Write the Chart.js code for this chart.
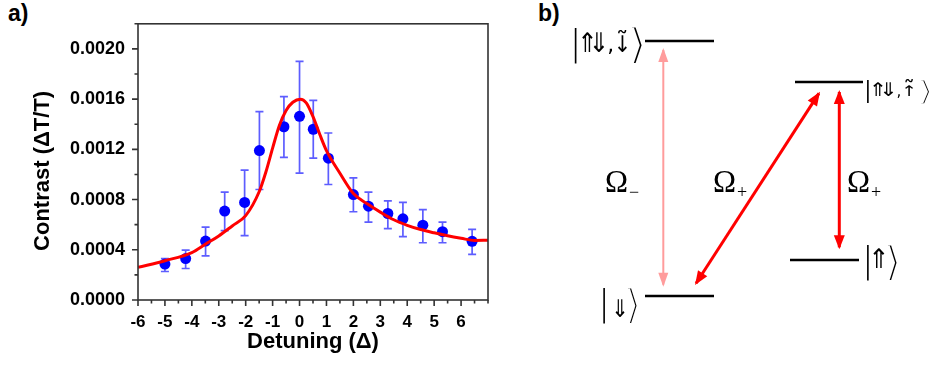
<!DOCTYPE html>
<html>
<head>
<meta charset="utf-8">
<title>Detuning contrast and level scheme</title>
<script src="https://cdn.jsdelivr.net/npm/chart.js@4.4.1/dist/chart.umd.min.js"></script>
<style>
  html, body { margin:0; padding:0; background:#fff; }
  body { width:934px; height:365px; position:relative; overflow:hidden; }
  .box { position:absolute; top:0; height:365px; }
  #boxA { left:0; width:500px; }
  #boxB { left:560px; width:374px; }
  .tag { position:absolute; top:-1px; font:bold 23px "Liberation Sans", Arial, sans-serif; line-height:28px; color:#000; }
</style>
</head>
<body>
<div class="tag" style="left:8px">a)</div>
<div class="tag" style="left:538px">b)</div>
<div class="box" id="boxA"><canvas id="chartA"></canvas></div>
<div class="box" id="boxB"><canvas id="chartB"></canvas></div>
<script>
// ---- panel a: measured contrast vs detuning ----
const detuning = [-5.0, -4.23, -3.49, -2.78, -2.04, -1.49, -0.58, 0.0, 0.51, 1.07, 2.0, 2.56, 3.28, 3.84, 4.58, 5.31, 6.41];
const contrast = [0.000286, 0.00033, 0.000469, 0.000708, 0.000777, 0.00119, 0.00138, 0.001463, 0.00136, 0.00113, 0.00084, 0.000747, 0.000689, 0.000647, 0.000596, 0.000544, 0.000467];
const errHigh  = [0.00033, 0.000398, 0.000581, 0.00086, 0.001035, 0.0015, 0.00162, 0.0019, 0.00159, 0.00133, 0.000972, 0.00086, 0.00079, 0.000777, 0.00072, 0.00062, 0.000562];
const errLow   = [0.000227, 0.000251, 0.000352, 0.000552, 0.000513, 0.00088, 0.001136, 0.00101, 0.00113, 0.00092, 0.000703, 0.00062, 0.000569, 0.000505, 0.000456, 0.000456, 0.000364];

// fitted line shape
const fitX = [-6, -5, -4, -3.5, -3, -2.5, -2, -1.5, -1.25, -1, -0.75, -0.5, -0.25, 0.03, 0.25, 0.5, 0.75, 1, 1.5, 2, 2.5, 3, 3.5, 4, 4.5, 5, 5.5, 6, 6.5, 7];
const fitY = [0.00026, 0.000313, 0.000378, 0.000444, 0.00051, 0.00059, 0.000672, 0.000862, 0.00102, 0.00121, 0.00139, 0.00151, 0.001575, 0.0016, 0.00157, 0.00146, 0.00132, 0.00119, 0.00101, 0.000848, 0.000768, 0.0007, 0.000639, 0.000595, 0.000561, 0.000535, 0.000512, 0.000492, 0.000474, 0.000476];

// axis ranges and tick steps
const xRange = [-6, 7];
const yRange = [0, 0.0022];
const xStep = 0.5;
const yStep = 0.0002;

// ---- panel b: level scheme ----
const levelStates = [['⇑', '⇓', ',', '↓̃'], ['⇑', '⇓', ',', '↑̃'], ['⇑'], ['⇓']];
const levelEnergy = [32.4, 28.3, 10.5, 6.9];
const levelFrom   = [8.5, 23.5, 23.0, 8.5];
const levelTo     = [15.4, 30.3, 29.9, 15.4];

const transSub   = ['−', '+', '+'];
const transStart = [[10.33, 8.03], [13.61, 8.17], [27.93, 11.77]];
const transEnd   = [[10.33, 31.5], [25.89, 27.16], [27.93, 27.3]];

const SANS = '"Liberation Sans", Arial, Helvetica, sans-serif';
const SERIF = '"Liberation Serif", "Times New Roman", serif';
const SYM = '"DejaVu Sans", sans-serif';
const TILDE = '\u0303';

// error bars under the markers
const errorBars = {
  id: 'errorBars',
  beforeDatasetsDraw(chart) {
    const { ctx, scales: { x, y } } = chart;
    ctx.save();
    ctx.strokeStyle = 'rgba(30,30,255,0.72)';
    ctx.lineWidth = 1.7;
    detuning.forEach((d, i) => {
      const px = x.getPixelForValue(d);
      const top = y.getPixelForValue(errHigh[i]);
      const bot = y.getPixelForValue(errLow[i]);
      ctx.beginPath();
      ctx.moveTo(px, top); ctx.lineTo(px, bot);
      ctx.moveTo(px - 4, top); ctx.lineTo(px + 4, top);
      ctx.moveTo(px - 4, bot); ctx.lineTo(px + 4, bot);
      ctx.stroke();
    });
    ctx.restore();
  }
};

// closed frame with outward major/minor tick marks
const frameTicks = {
  id: 'frameTicks',
  afterDraw(chart) {
    const { ctx, chartArea: a, scales: { x, y } } = chart;
    ctx.save();
    ctx.strokeStyle = '#333';
    ctx.lineWidth = 1.6;
    ctx.strokeRect(a.left, a.top, a.right - a.left, a.bottom - a.top);
    ctx.beginPath();
    x.ticks.forEach(t => {
      const p = x.getPixelForValue(t.value);
      const len = t.label !== '' ? 6 : 3.5;
      ctx.moveTo(p, a.bottom); ctx.lineTo(p, a.bottom + len);
    });
    y.ticks.forEach(t => {
      const p = y.getPixelForValue(t.value);
      const len = t.label !== '' ? 6 : 3.5;
      ctx.moveTo(a.left, p); ctx.lineTo(a.left - len, p);
    });
    ctx.stroke();
    ctx.restore();
  }
};

const axisTitles = {
  id: 'axisTitles',
  afterDraw(chart) {
    const { ctx, chartArea: a } = chart;
    ctx.save();
    ctx.fillStyle = '#000';
    ctx.font = 'bold 22px ' + SANS;
    ctx.textAlign = 'center';
    ctx.textBaseline = 'middle';
    ctx.fillText('Detuning (Δ)', (a.left + a.right) / 2, a.bottom + 42);
    ctx.translate(a.left - 95, (a.top + a.bottom) / 2 + 9);
    ctx.rotate(-Math.PI / 2);
    ctx.fillText('Contrast (ΔT/T)', 0, 0);
    ctx.restore();
  }
};

const tickFont = (size) => ({ family: SANS, size: size, weight: 'bold' });

new Chart(document.getElementById('chartA'), {
  type: 'scatter',
  data: {
    datasets: [
      {
        label: 'measured',
        data: detuning.map((d, i) => ({ x: d, y: contrast[i] })),
        backgroundColor: '#0000ff',
        borderWidth: 0,
        pointRadius: 5.5,
        pointHoverRadius: 5.5,
        order: 2
      },
      {
        label: 'fit',
        type: 'line',
        data: fitX.map((d, i) => ({ x: d, y: fitY[i] })),
        borderColor: '#ff0000',
        borderWidth: 3,
        pointRadius: 0,
        fill: false,
        cubicInterpolationMode: 'monotone',
        order: 1
      }
    ]
  },
  options: {
    responsive: true,
    maintainAspectRatio: false,
    animation: false,
    events: [],
    layout: { padding: { left: 0, right: 12, top: 0, bottom: 0 } },
    plugins: { legend: { display: false }, tooltip: { enabled: false } },
    scales: {
      x: {
        type: 'linear',
        min: xRange[0], max: xRange[1],
        grid: { display: false, drawTicks: false },
        border: { display: false },
        ticks: {
          stepSize: xStep, autoSkip: false, maxRotation: 0, minRotation: 0,
          padding: 12, color: '#000', font: tickFont(17),
          callback: (v) => (Number.isInteger(v) && v <= 6) ? String(v) : ''
        },
        afterFit: (s) => { s.height = 65; }
      },
      y: {
        min: yRange[0], max: yRange[1],
        grid: { display: false, drawTicks: false },
        border: { display: false },
        ticks: {
          stepSize: yStep, autoSkip: false,
          padding: 13, color: '#000', font: tickFont(18),
          callback: (v) => {
            const k = Math.round(v / yStep);
            return (k % 2 === 0 && k <= 10) ? (k * yStep).toFixed(4) : '';
          }
        },
        afterFit: (s) => { s.width = 138; }
      }
    }
  },
  plugins: [errorBars, frameTicks, axisTitles]
});

// ---- panel b drawing helpers ----

// glyph stretched into a box; optionally trimmed to a thin right-hand edge
function drawBoxed(ctx, str, left, top, w, h, trim) {
  ctx.save();
  ctx.font = '100px ' + SYM;
  const m = ctx.measureText(str);
  const gw = m.actualBoundingBoxLeft + m.actualBoundingBoxRight;
  const gh = m.actualBoundingBoxAscent + m.actualBoundingBoxDescent;
  ctx.textAlign = 'left';
  ctx.textBaseline = 'alphabetic';
  const put = (dx, colour) => {
    ctx.save();
    ctx.fillStyle = colour;
    ctx.translate(left + dx, top);
    ctx.scale(w / gw, h / gh);
    ctx.fillText(str, m.actualBoundingBoxLeft, m.actualBoundingBoxAscent);
    ctx.restore();
  };
  put(0, '#000');
  if (trim > 0) put(-trim, '#fff');
  ctx.restore();
}

// ket |state> layout per level: side of the line, offsets and glyph sizes
const ketStyle = [
  { side: 'left',  gap: 3, dy: 4.3, h: 36, arrowH: 20, arrowDy: -3,   aw: 11.5, commaW: 12, padL: 5,  padR: 4, bracketW: 10 },
  { side: 'right', gap: 4, dy: 10,  h: 23, arrowH: 14, arrowDy: -3.5, aw: 10.5, commaW: 10, padL: 4,  padR: 7, bracketW: 8 },
  { side: 'right', gap: 8, dy: 2.5, h: 35, arrowH: 20, arrowDy: -4.5, aw: 12,   commaW: 0,  padL: 4,  padR: 3, bracketW: 9 },
  { side: 'left',  gap: 8, dy: 10,  h: 35, arrowH: 18, arrowDy: 2,    aw: 10,   commaW: 0,  padL: 10, padR: 3, bracketW: 9 }
];

function ketWidth(parts, st) {
  const inner = parts.reduce((s, p) => s + (p === ',' ? st.commaW : st.aw), 0);
  return 1.8 + st.padL + inner + st.padR + st.bracketW;
}

function drawKet(ctx, parts, left, yc, st) {
  const top = yc - st.h / 2;
  drawBoxed(ctx, '|', left, top, 1.8, st.h, 0);
  ctx.save();
  ctx.fillStyle = '#000';
  ctx.font = '100px ' + SYM;
  ctx.textAlign = 'left';
  ctx.textBaseline = 'alphabetic';
  const ref = ctx.measureText('⇑');
  const refW = ref.actualBoundingBoxLeft + ref.actualBoundingBoxRight;
  const refH = ref.actualBoundingBoxAscent + ref.actualBoundingBoxDescent;
  const sx = st.aw * 0.92 / refW, sy = st.arrowH / refH;
  const arrowTop = yc + st.arrowDy - st.arrowH / 2;
  const arrowBot = arrowTop + st.arrowH;
  const baseline = arrowTop + ref.actualBoundingBoxAscent * sy;
  let x = left + 1.8 + st.padL;
  parts.forEach(p => {
    const bw = p === ',' ? st.commaW : st.aw;
    if (p.endsWith(TILDE)) {
      // spin arrow carrying a tilde: shorter arrow with the accent set above it
      const base = p.slice(0, -TILDE.length);
      const accTop = arrowTop - 2;
      drawBoxed(ctx, base, x + bw * 0.1, accTop + 5, bw * 0.8, arrowBot - accTop - 5, 0);
      drawBoxed(ctx, '˜', x + bw * 0.12, accTop, bw * 0.76, 3, 0);
    } else {
      const m = ctx.measureText(p);
      ctx.save();
      ctx.translate(x + bw / 2, baseline);
      if (p === ',') ctx.scale(sy * 0.8, sy * 0.8); else ctx.scale(sx, sy);
      ctx.fillText(p, (m.actualBoundingBoxLeft - m.actualBoundingBoxRight) / 2, 0);
      ctx.restore();
    }
    x += bw;
  });
  ctx.restore();
  drawBoxed(ctx, '⟩', x + st.padR, top, st.bracketW, st.h, Math.max(0, st.bracketW * 0.3 - 1.3));
}

function drawHead(ctx, tipX, tipY, fromX, fromY, color, len, half) {
  const ang = Math.atan2(tipY - fromY, tipX - fromX);
  ctx.save();
  ctx.translate(tipX, tipY);
  ctx.rotate(ang);
  ctx.fillStyle = color;
  ctx.beginPath();
  ctx.moveTo(2, 0);
  ctx.lineTo(2 - len, -half);
  ctx.lineTo(2 - len, half);
  ctx.closePath();
  ctx.fill();
  ctx.restore();
}

const arrowHeads = {
  id: 'arrowHeads',
  afterDatasetsDraw(chart) {
    const { ctx } = chart;
    chart.data.datasets.forEach((ds, i) => {
      if (!ds.head) return;
      const [p, q] = chart.getDatasetMeta(i).data;
      drawHead(ctx, q.x, q.y, p.x, p.y, ds.borderColor, ds.head.len, ds.head.half);
      drawHead(ctx, p.x, p.y, q.x, q.y, ds.borderColor, ds.head.len, ds.head.half);
    });
  }
};

// Rabi frequency symbols next to the transitions
const omegaSpots = [[4.5, 17.3], [15.3, 17.3], [28.7, 17.3]];

const schemeLabels = {
  id: 'schemeLabels',
  afterDraw(chart) {
    const { ctx, scales: { x, y } } = chart;
    ctx.save();
    ctx.fillStyle = '#000';
    levelStates.forEach((parts, i) => {
      const st = ketStyle[i];
      const total = ketWidth(parts, st);
      const yc = y.getPixelForValue(levelEnergy[i]) + st.dy;
      const left = st.side === 'left'
        ? x.getPixelForValue(levelFrom[i]) - st.gap - total
        : x.getPixelForValue(levelTo[i]) + st.gap;
      drawKet(ctx, parts, left, yc, st);
    });
    transSub.forEach((sub, i) => {
      const px = x.getPixelForValue(omegaSpots[i][0]);
      const py = y.getPixelForValue(omegaSpots[i][1]);
      ctx.fillStyle = '#000';
      ctx.font = '31px ' + SERIF;
      ctx.textAlign = 'left';
      ctx.textBaseline = 'alphabetic';
      ctx.fillText('Ω', px, py);
      const w = ctx.measureText('Ω').width;
      ctx.font = '18px ' + SERIF;
      ctx.fillText(sub, px + w + 1, py + 6);
    });
    ctx.restore();
  }
};

const levelSets = levelStates.map((parts, i) => ({
  label: '|' + parts.join('') + '⟩',
  data: [{ x: levelFrom[i], y: levelEnergy[i] }, { x: levelTo[i], y: levelEnergy[i] }],
  showLine: true, borderColor: '#000', borderWidth: 2.5, borderCapStyle: 'butt', pointRadius: 0
}));

const transColors = ['#ff9c9c', '#ff0000', '#ff0000'];
const transWidths = [2, 3, 3];
const transSets = transSub.map((sub, i) => ({
  label: 'Ω' + sub,
  data: [{ x: transStart[i][0], y: transStart[i][1] }, { x: transEnd[i][0], y: transEnd[i][1] }],
  showLine: true, borderColor: transColors[i], borderWidth: transWidths[i], borderCapStyle: 'butt', pointRadius: 0,
  head: { len: 14, half: i === 0 ? 5 : 5.5 }
}));

new Chart(document.getElementById('chartB'), {
  type: 'scatter',
  data: { datasets: [...levelSets, ...transSets] },
  options: {
    responsive: true,
    maintainAspectRatio: false,
    animation: false,
    events: [],
    layout: { padding: 0 },
    plugins: { legend: { display: false }, tooltip: { enabled: false } },
    scales: {
      x: { display: false, min: 0, max: 37.4 },
      y: { display: false, min: 0, max: 36.5 }
    }
  },
  plugins: [arrowHeads, schemeLabels]
});
</script>
</body>
</html>
